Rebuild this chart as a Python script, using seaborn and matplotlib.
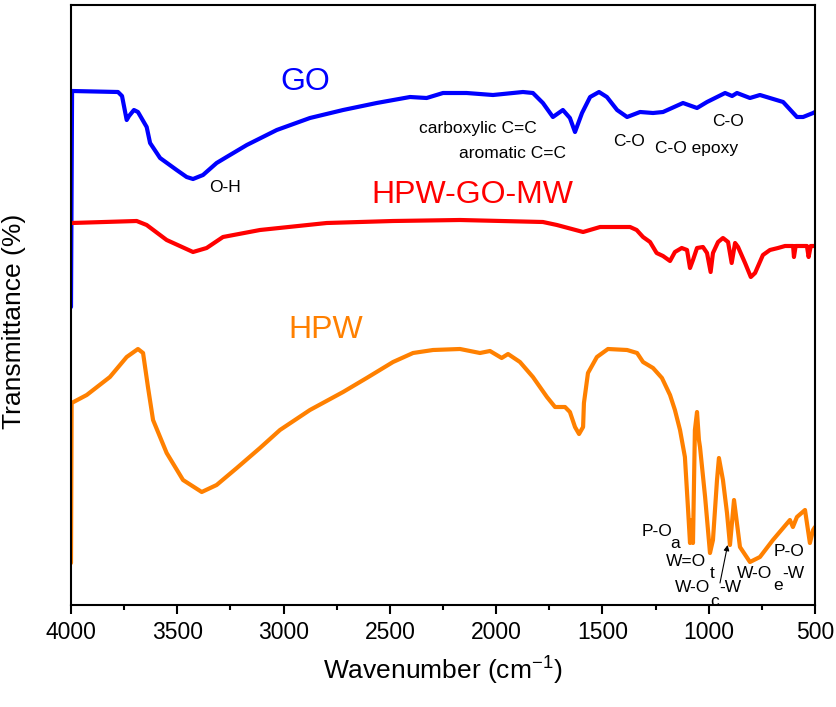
import matplotlib
matplotlib.use("Agg")
import matplotlib.pyplot as plt
from matplotlib.ticker import MultipleLocator
import numpy as np
import pandas as pd
import seaborn as sns

# FTIR spectra (offset transmittance, arbitrary units)
go_wn = [4000, 3995, 3779, 3760, 3738, 3727, 3704, 3685, 3644, 3628, 3581, 3503,
         3456, 3426, 3379, 3315, 3268, 3173, 3032, 2876, 2720, 2562, 2405, 2327,
         2250, 2139, 2015, 1874, 1827, 1780, 1733, 1686, 1653, 1629, 1596, 1558,
         1516, 1479, 1431, 1384, 1323, 1262, 1215, 1121, 1055, 1008, 923, 890,
         867, 806, 759, 650, 585, 556, 509, 500]
go_t = [298, 514, 513, 509, 485, 489, 495, 493, 478, 462, 447, 435,
        428, 426, 430, 442, 448, 460, 475, 487, 495, 502, 508, 507,
        512, 512, 510, 513, 512, 502, 488, 495, 487, 473, 492, 508,
        513, 508, 495, 488, 493, 492, 493, 502, 497, 503, 512, 509,
        512, 507, 510, 503, 488, 488, 492, 493]

mw_wn = [3997, 3691, 3644, 3550, 3426, 3362, 3285, 3111, 2797, 2485, 2170, 1780,
         1714, 1591, 1511, 1370, 1339, 1309, 1276, 1245, 1215, 1182, 1159, 1127,
         1102, 1088, 1074, 1055, 1027, 1008, 991, 980, 956, 933, 909, 892,
         876, 862, 829, 802, 782, 745, 712, 674, 641, 603, 599, 591,
         538, 530, 520, 509, 500]
mw_t = [382, 384, 380, 365, 353, 357, 368, 375, 382, 384, 385, 383,
        380, 373, 378, 378, 375, 368, 363, 352, 349, 344, 353, 357,
        355, 337, 345, 357, 358, 352, 333, 352, 363, 367, 363, 342,
        362, 358, 342, 328, 332, 350, 355, 357, 359, 359, 348, 359,
        359, 348, 359, 359, 359]

hpw_wn = [4000, 3997, 3926, 3817, 3738, 3685, 3661, 3638, 3614, 3550, 3473, 3385,
          3315, 3220, 3111, 3017, 2876, 2720, 2609, 2485, 2391, 2297, 2170, 2076,
          2029, 1974, 1944, 1888, 1827, 1761, 1723, 1676, 1653, 1629, 1610, 1591,
          1587, 1568, 1526, 1474, 1384, 1337, 1309, 1262, 1220, 1182, 1159, 1135,
          1112, 1097, 1088, 1079, 1074, 1065, 1055, 1046, 1041, 1017, 994, 980,
          961, 952, 933, 914, 900, 881, 853, 806, 759, 698, 618, 604,
          585, 547, 524, 509, 500]
hpw_t = [42, 202, 210, 228, 248, 256, 252, 218, 185, 152, 125, 113,
         120, 137, 157, 175, 195, 213, 227, 243, 252, 255, 256, 252,
         254, 247, 251, 243, 228, 208, 198, 198, 193, 178, 171, 178,
         202, 232, 248, 256, 255, 252, 243, 237, 227, 210, 195, 175,
         148, 95, 62, 85, 62, 175, 193, 165, 158, 108, 52, 65,
         125, 147, 125, 92, 60, 105, 58, 43, 48, 65, 85, 78,
         88, 95, 62, 75, 78]

series = [("GO", go_wn, go_t, "#0000FF"),
          ("HPW-GO-MW", mw_wn, mw_t, "#FF0000"),
          ("HPW", hpw_wn, hpw_t, "#FF8000")]

sns.set_style("ticks")
plt.rcParams["font.family"] = ["Liberation Sans", "DejaVu Sans"]
plt.rcParams["mathtext.fontset"] = "custom"
plt.rcParams["mathtext.rm"] = "Liberation Sans"
plt.rcParams["mathtext.it"] = "Liberation Sans:italic"
plt.rcParams["text.color"] = "black"
plt.rcParams["axes.labelcolor"] = "black"
plt.rcParams["xtick.color"] = "black"
plt.rcParams["ytick.color"] = "black"

fig = plt.figure(figsize=(8.36, 7.07), dpi=100)
ax = fig.add_axes([71 / 836, 102 / 707, 744 / 836, 600 / 707])

for name, wn, t, col in series:
    df = pd.DataFrame({"wn": wn, "t": t})
    sns.lineplot(data=df, x="wn", y="t", ax=ax, color=col, lw=3,
                 sort=False, estimator=None, solid_joinstyle="round",
                 solid_capstyle="round")

ax.set_xlim(4000, 500)
ax.set_ylim(0, 600)
ax.set_yticks([])
ax.xaxis.set_major_locator(MultipleLocator(500))
ax.xaxis.set_minor_locator(MultipleLocator(250))
ax.tick_params(axis="x", which="major", direction="out", length=6.5, width=1.5,
               labelsize=16.5, pad=5, colors="black")
ax.tick_params(axis="x", which="minor", direction="out", length=3.5, width=1.5)
for s in ax.spines.values():
    s.set_linewidth(1.5)
    s.set_color("black")

ax.set_xlabel("Wavenumber (cm$^{\\mathregular{-1}}$)", fontsize=19, labelpad=8,
              color="black")
ax.set_ylabel("Transmittance (%)", fontsize=19, color="black")
ax.yaxis.set_label_coords(-0.0605, 0.472)

# sample labels
ax.text(2899, 523.5, "GO", color="#0000FF", fontsize=23, ha="center", va="center")
ax.text(2114, 410, "HPW-GO-MW", color="#FF0000", fontsize=23, ha="center", va="center")
ax.text(2800, 274.5, "HPW", color="#FF8000", fontsize=23, ha="center", va="center")

# band assignments
fs = 12.5
bands = [(3276, 417, "O-H"), (2085, 477, "carboxylic C=C"),
         (1921, 452, "aromatic C=C"), (1375, 464, "C-O"),
         (1055, 457, "C-O epoxy"), (907, 483, "C-O"),
         (1241, 73, "P-O"), (1159, 62, "a"),
         (1109, 43, "W=O"), (984, 32, "t"),
         (1074, 17, "W-O"), (970, 3, "c"), (900, 17, "-W"),
         (622, 53, "P-O"),
         (785, 32, "W-O"), (674, 20, "e"), (603, 32, "-W")]
for x, y, s in bands:
    ax.text(x, y, s, fontsize=fs, ha="center", va="center", color="black",
            clip_on=False)

ax.annotate("", xy=(911, 60), xytext=(947, 22),
            arrowprops=dict(arrowstyle="-|>", color="black", lw=0.8,
                            mutation_scale=8, shrinkA=0, shrinkB=0))

fig.savefig("out.png", dpi=100)
